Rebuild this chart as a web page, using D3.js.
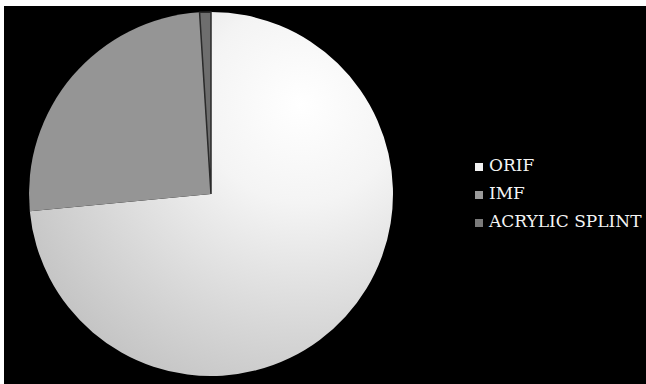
<!DOCTYPE html>
<html>
<head>
<meta charset="utf-8">
<script src="https://cdn.jsdelivr.net/npm/d3@7"></script>
<style>
  body { margin: 0; background: #fff; }
</style>
</head>
<body>
<script>
// Chart data
var categories = ["ORIF", "IMF", "ACRYLIC SPLINT"];
var values = [73.5, 25.5, 1];
var colors = ["url(#orifGrad)", "#959595", "#6e6e6e"];
var legendColors = ["#f2f2f2", "#9a9a9a", "#7a7a7a"];

var svgWidth = 646;
var svgHeight = 384;

var svg = d3.select("body")
  .append("svg")
  .attr("width", svgWidth)
  .attr("height", svgHeight);

// white frame with black panel
svg.append("rect")
  .attr("x", 4)
  .attr("y", 6)
  .attr("width", svgWidth - 4)
  .attr("height", svgHeight - 6)
  .attr("fill", "#000");

var defs = svg.append("defs");
// gradient coords are relative to the pie centre
var grad = defs.append("radialGradient")
  .attr("id", "orifGrad")
  .attr("gradientUnits", "userSpaceOnUse")
  .attr("cx", 90).attr("cy", -90).attr("r", 330);
grad.append("stop").attr("offset", "0%").attr("stop-color", "#ffffff");
grad.append("stop").attr("offset", "30%").attr("stop-color", "#f4f4f4");
grad.append("stop").attr("offset", "70%").attr("stop-color", "#d6d6d6");
grad.append("stop").attr("offset", "100%").attr("stop-color", "#c0c0c0");

var cx = 211, cy = 194, radius = 182;

var pie = d3.pie().sort(null).value(d => d);
var arc = d3.arc().innerRadius(0).outerRadius(radius);

var pieGroup = svg.append("g")
  .attr("transform", `translate(${cx}, ${cy})`);

pieGroup.selectAll("path")
  .data(pie(values))
  .enter()
  .append("path")
  .attr("d", arc)
  .attr("fill", (d, i) => colors[i])
  .attr("stroke", (d, i) => i === 2 ? "#2a2a2a" : "none")
  .attr("stroke-width", 1.5);

// legend
var legend = svg.append("g")
  .attr("transform", "translate(475, 163)");

var items = legend.selectAll("g")
  .data(categories)
  .enter()
  .append("g")
  .attr("transform", (d, i) => `translate(0, ${i * 28})`);

items.append("rect")
  .attr("width", 8)
  .attr("height", 8)
  .attr("fill", (d, i) => legendColors[i]);

items.append("text")
  .attr("x", 14)
  .attr("y", 8)
  .attr("fill", "#f4f4f4")
  .style("font-family", "'DejaVu Serif', serif")
  .style("font-size", "17px")
  .text(d => d);
</script>
</body>
</html>
